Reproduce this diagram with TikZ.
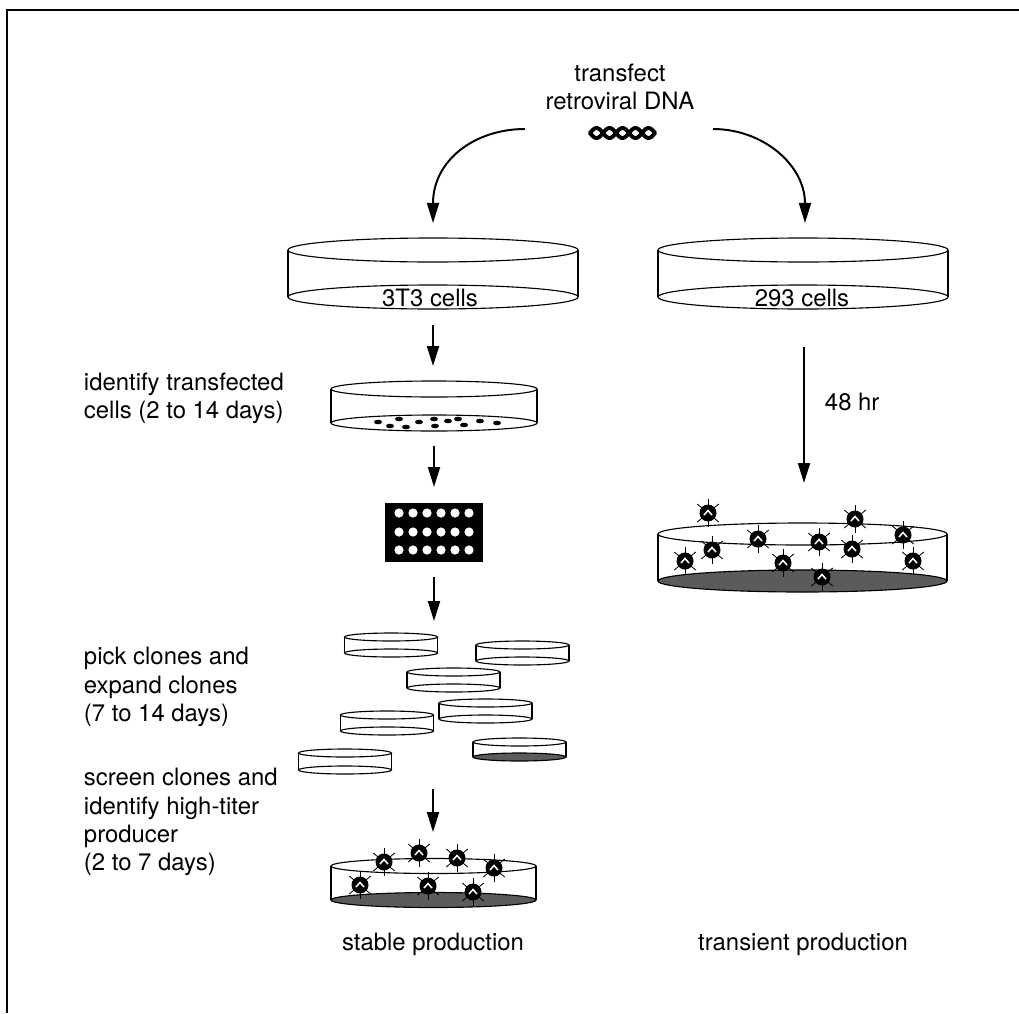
\documentclass[tikz,border=0pt]{standalone}
\usepackage{fontspec}
\setmainfont{TeX Gyre Heros}
\usetikzlibrary{arrows.meta}

\definecolor{medium}{HTML}{5B5B5D}

% a culture dish: centre x, top y, bottom y, x radius, y radius, bottom fill
\newcommand\petri[6]{%
  \filldraw[dishline, fill=#6] (#1,#3) ellipse [x radius=#4, y radius=#5];
  \draw[dishline] (#1-#4,#2) -- (#1-#4,#3) (#1+#4,#2) -- (#1+#4,#3);
  \draw[dishline] (#1,#2) ellipse [x radius=#4, y radius=#5];
}

\tikzset{
  flow/.style={line width=1.4pt, -{Triangle[length=0.5cm,width=0.3cm]}},
  dishline/.style={line width=0.8pt},
  strand/.style={line width=2.8pt, line cap=round},
  steptext/.style={font=\fontsize{17}{20}\selectfont, align=left, anchor=west},
  caption/.style={font=\fontsize{17}{20}\selectfont, align=center},
  virion/.pic={
    \foreach \a in {90,270,40,140,220,320}
      \draw[line width=0.6pt] (0,0) -- (\a:14);
    \fill (0,0) circle [radius=8.5];
    \draw[white, line width=1.1pt] (-4,2) -- (0,-2.5) -- (4,2);
  }
}

\begin{document}
\begin{tikzpicture}[x=0.025cm, y=-0.025cm]
\useasboundingbox (0,0) rectangle (1019,1013);
\draw[line width=1.1pt] (7,1013) -- (7,10) -- (1019,10);

% plasmid
\node[caption] (transfect) at (620,87) {transfect\\retroviral DNA};
\draw[strand] plot[domain=0:900, samples=90, smooth] ({590+\x*0.07222},{133-5*sin(\x)});
\draw[strand] plot[domain=0:900, samples=90, smooth] ({590+\x*0.07222},{133+5*sin(\x)});
\foreach \k in {0,...,4}
  \draw[white, line width=0.7pt] ({590+(\k+0.5)*13},130) -- ++(0,6);

\coordinate (dnaL) at (525,129);
\coordinate (dnaR) at (713,129);
\coordinate (t3top) at (433,223);
\coordinate (hektop) at (805,223);
\draw[flow] (dnaL) .. controls (475,129) and (433,160) .. (t3top);
\draw[flow] (dnaR) .. controls (763,129) and (805,165) .. (hektop);

% two packaging lines
\petri{433}{250}{297}{145}{12}{white}
\petri{803}{250}{297}{145}{12}{white}
\node[caption] (t3) at (430,298) {3T3 cells};
\node[caption] (hek) at (802,298) {293 cells};

% stable branch
\coordinate (t3bot) at (433,325);
\coordinate (seltop) at (433,366);
\draw[flow] (t3bot) -- (seltop);
\node[steptext] (identify) at (79,398) {identify transfected\\cells (2 to 14 days)};
\petri{434}{389}{423}{103}{8}{white}
\foreach \x/\y in {378/422, 390/426, 399/419, 406/427, 419/422, 434/419,
                   435/426, 448/421, 458/419, 464/425, 480/421, 497/423}
  \fill (\x,\y) ellipse [x radius=4, y radius=2.3];

\coordinate (selbot) at (434,446);
\coordinate (platetop) at (434,487);
\draw[flow] (selbot) -- (platetop);
\fill (385,503) rectangle (483,562);
\foreach \i in {0,...,5}
  \foreach \y in {513,532,550}
    \fill[white] (399+14*\i,\y) circle [radius=4.6];

\coordinate (platebot) at (434,577);
\coordinate (clonetop) at (434,621);
\draw[flow] (platebot) -- (clonetop);
\node[steptext] (pick) at (79,687) {pick clones and\\expand clones\\(7 to 14 days)};
\foreach \x/\t/\b in {391/637/653, 522.5/645/661, 453.5/672/688, 485.5/703/719,
                      387/715/731, 345/753/770}
  {\petri{\x}{\t}{\b}{46.5}{4}{white}}
\petri{519.5}{742}{757}{46.5}{4}{medium}

\coordinate (clonebot) at (433,789);
\coordinate (screentop) at (433,832);
\draw[flow] (clonebot) -- (screentop);
\node[steptext] (screen) at (79,822) {screen clones and\\identify high-titer\\producer\\(2 to 7 days)};
\petri{433.5}{866}{900}{102.5}{7.5}{medium}
\foreach \x/\y in {384/862, 419/853, 457/858, 494/868, 360/885, 428/886, 473/892}
  \pic at (\x,\y) {virion};
\node[caption] (stable) at (433,944) {stable production};

% transient branch
\coordinate (hekbot) at (804,347);
\coordinate (harvest) at (804,483);
\draw[flow] (hekbot) -- (harvest);
\node[steptext] (hours) at (820,402) {48 hr};
\petri{802.5}{534}{581}{144.5}{11}{medium}
\foreach \x/\y in {708/513, 855/519, 903/535, 758/539, 819/542, 712/550,
                   852/549, 685/561, 783/563, 913/561, 822/577}
  \pic at (\x,\y) {virion};
\node[caption] (transient) at (803,944) {transient production};
\end{tikzpicture}
\end{document}
